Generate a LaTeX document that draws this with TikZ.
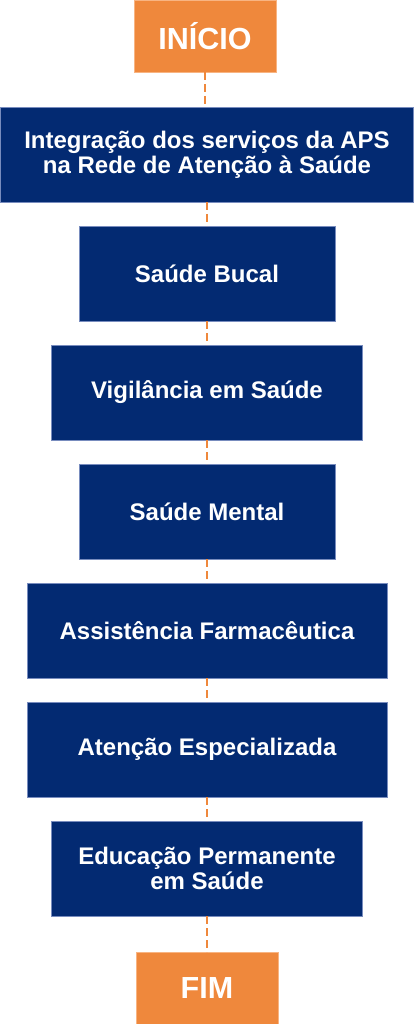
\documentclass[tikz,border=0pt]{standalone}
\usepackage{fontspec}
\setmainfont{Liberation Sans}
\usepackage{xcolor}
\usepackage{tikz}
\usetikzlibrary{arrows.meta, positioning}

\definecolor{apsnavy}{RGB}{3,42,114}
\definecolor{apsorange}{RGB}{239,136,60}
\definecolor{navyedge}{RGB}{120,140,190}
\definecolor{orangeedge}{RGB}{248,180,130}

\tikzset{
  etapa/.style={fill=apsnavy, draw=navyedge, line width=0.6pt, text=white, inner sep=0pt, outer sep=0pt,
    minimum height=95pt, align=center, font=\fontsize{24}{25}\selectfont\bfseries},
  terminal/.style={fill=apsorange, draw=orangeedge, line width=0.6pt, text=white, inner sep=0pt, outer sep=0pt,
    minimum width=142pt, minimum height=72pt, font=\fontsize{30.5}{32}\selectfont\bfseries},
  elo/.style={apsorange, line width=2.2pt, dash pattern=on 8pt off 4pt}
}

\begin{document}
\begin{tikzpicture}[x=1pt, y=-1pt]
  \useasboundingbox (0,0) rectangle (414,1024);
  \node[terminal] (inicio) at (205,36) {INÍCIO};
  \node[etapa, minimum width=413pt] (aps) at (207,154.5) {Integração dos serviços da APS\\na Rede de Atenção à Saúde};
  \node[etapa, minimum width=256pt, below=24pt of aps] (bucal) {Saúde Bucal};
  \node[etapa, minimum width=311pt, below=24pt of bucal] (vigil) {Vigilância em Saúde};
  \node[etapa, minimum width=256pt, below=24pt of vigil] (mental) {Saúde Mental};
  \node[etapa, minimum width=360pt, below=24pt of mental] (farma) {Assistência Farmacêutica};
  \node[etapa, minimum width=360pt, below=24pt of farma] (espec) {Atenção Especializada};
  \node[etapa, minimum width=311pt, below=24pt of espec] (educ) {Educação Permanente\\em Saúde};
  \node[terminal, below=36pt of educ] (fim) {FIM};
  \draw[elo] (inicio.south) -- (inicio.south |- aps.north);
  \foreach \a/\b in {aps/bucal, bucal/vigil, vigil/mental, mental/farma, farma/espec, espec/educ, educ/fim}
    \draw[elo] (\a.south) -- (\b.north);
\end{tikzpicture}
\end{document}
